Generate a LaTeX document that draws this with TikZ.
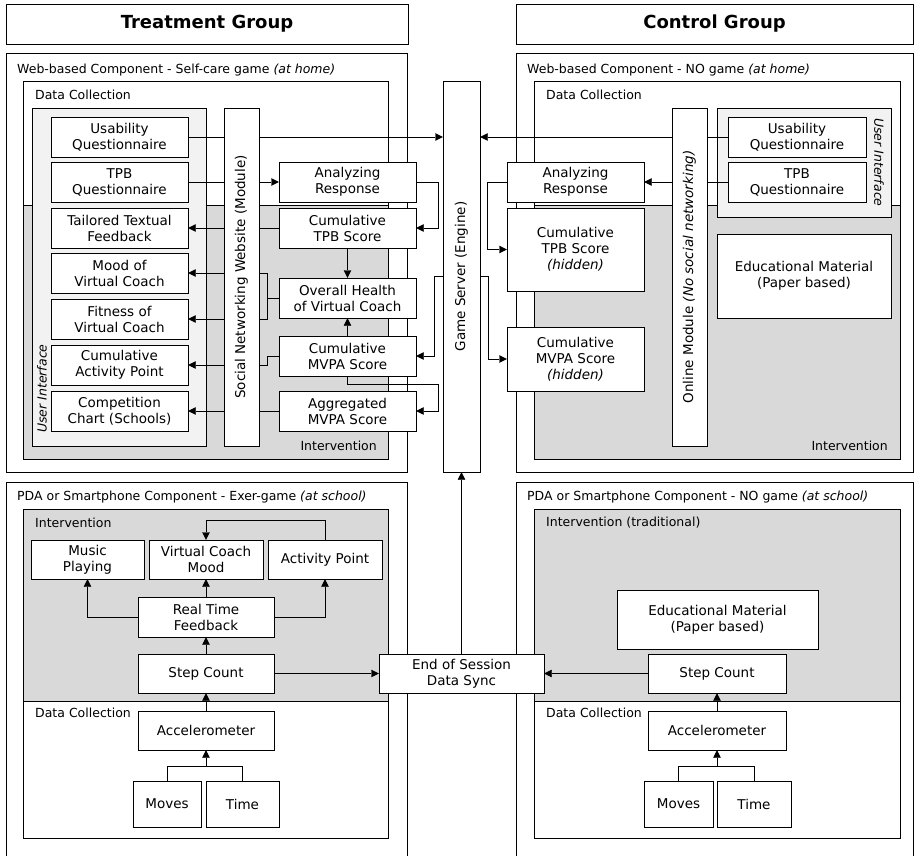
\documentclass[tikz,border=0pt]{standalone}
\usepackage{fontspec}
\setmainfont{DejaVu Sans}
\usetikzlibrary{arrows.meta,calc}

\definecolor{intgray}{RGB}{217,217,217}
\definecolor{uigray}{RGB}{242,242,242}

\pgfdeclarelayer{panels}
\pgfdeclarelayer{wires}
\pgfsetlayers{panels,wires,main}

% box given by its corners: name, x1, y1, x2, y2, text
\newcommand\mkbox[6]{%
  \node[block, minimum width={(#4)-(#2)}, minimum height={(#5)-(#3)}]
    (#1) at ({((#2)+(#4))/2},{((#3)+(#5))/2}) {#6};}

\begin{document}
\begin{tikzpicture}[x=1pt, y=-1pt, line width=0.9pt,
  txt/.style={font=\fontsize{13.5}{16}\selectfont},
  block/.style={draw, fill=white, align=center, inner sep=0pt, txt},
  vtext/.style={inner sep=0pt, rotate=90, txt},
  lbl/.style={inner sep=0pt, anchor=west, font=\fontsize{12.5}{15}\selectfont},
  head/.style={draw, fill=white, inner sep=0pt, font=\fontsize{18}{21}\selectfont\bfseries},
  arr/.style={-{Triangle[length=7.5pt,width=7.5pt]}},
  panel/.style={draw, fill=white},
  intpanel/.style={draw, fill=intgray},
  uipanel/.style={draw, fill=uigray},
]
\useasboundingbox (0,0) rectangle (918,856);

% ---------- headers ----------
\node[head, minimum width=402, minimum height=40] (hT) at (207,24) {Treatment Group};
\node[head, minimum width=397, minimum height=40] (hC) at (714.5,24) {Control Group};

% ---------- containers ----------
\begin{pgfonlayer}{panels}
  % web, treatment
  \draw[panel] (6,53) rectangle (407,472);
  \draw[panel] (23,81) rectangle (388,459);
  \draw[intpanel] (23,205) rectangle (388,459);
  \draw[uipanel] (32,108) rectangle (206,446);
  % web, control
  \draw[panel] (516,53) rectangle (913,472);
  \draw[panel] (534,81) rectangle (900,459);
  \draw[intpanel] (534,205) rectangle (900,459);
  \draw[uipanel] (717,108) rectangle (891,217);
  % PDA, treatment
  \draw[panel] (6,857) |- (407,482) -- (407,857);
  \draw[panel] (23,509) rectangle (388,838);
  \draw[intpanel] (23,509) rectangle (388,701);
  % PDA, control
  \draw[panel] (516,857) |- (913,482) -- (913,857);
  \draw[panel] (534,509) rectangle (900,838);
  \draw[intpanel] (534,509) rectangle (900,701);
\end{pgfonlayer}

% ---------- container labels ----------
\node[lbl] (wT) at (17,70) {Web-based Component - Self-care game \textit{(at home)}};
\node[lbl] (dcT) at (35,95) {Data Collection};
\node[lbl, anchor=east] (ivT) at (377,446) {Intervention};
\node[lbl, rotate=90, font=\fontsize{12.5}{15}\selectfont\itshape] (uiT) at (42,433) {User Interface};

\node[lbl] (wC) at (527,70) {Web-based Component - NO game \textit{(at home)}};
\node[lbl] (dcC) at (546,95) {Data Collection};
\node[lbl, anchor=east] (ivC) at (888,446) {Intervention};
\node[lbl, rotate=-90, font=\fontsize{12.5}{15}\selectfont\itshape] (uiC) at (879,118) {User Interface};

\node[lbl] (pT) at (17,497) {PDA or Smartphone Component - Exer-game \textit{(at school)}};
\node[lbl] (piT) at (35,523) {Intervention};
\node[lbl] (pdT) at (35,713) {Data Collection};

\node[lbl] (pC) at (527,497) {PDA or Smartphone Component - NO game \textit{(at school)}};
\node[lbl] (piC) at (546,523) {Intervention (traditional)};
\node[lbl] (pdC) at (546,713) {Data Collection};

% ---------- web component, treatment ----------
\mkbox{uq1}{51}{117}{188}{157}{Usability\\Questionnaire}
\mkbox{tq1}{51}{162}{188}{202}{TPB\\Questionnaire}
\mkbox{tf}{51}{208}{188}{248}{Tailored Textual\\Feedback}
\mkbox{mood}{51}{253}{188}{293}{Mood of\\Virtual Coach}
\mkbox{fit}{51}{299}{188}{339}{Fitness of\\Virtual Coach}
\mkbox{cap}{51}{345}{188}{385}{Cumulative\\Activity Point}
\mkbox{cc}{51}{391}{188}{431}{Competition\\Chart (Schools)}
\mkbox{ar1}{279}{162}{416}{202}{Analyzing\\Response}
\mkbox{ct1}{279}{208}{416}{248}{Cumulative\\TPB Score}
\mkbox{oh}{279}{278}{416}{318}{Overall Health\\of Virtual Coach}
\mkbox{cm1}{279}{336}{416}{376}{Cumulative\\MVPA Score}
\mkbox{am}{279}{391}{416}{431}{Aggregated\\MVPA Score}
\mkbox{snw}{224}{108}{259}{446}{}
\node[vtext] (snwt) at (snw.center) {Social Networking Website (Module)};

% ---------- game server ----------
\mkbox{gs}{443}{81}{480}{472}{}
\node[vtext] (gst) at (gs.center) {Game Server (Engine)};

% ---------- web component, control ----------
\mkbox{uq2}{728}{117}{866}{157}{Usability\\Questionnaire}
\mkbox{tq2}{728}{162}{866}{202}{TPB\\Questionnaire}
\mkbox{om}{672}{108}{707}{446}{}
\node[vtext] (omt) at (om.center) {Online Module \textit{(No social networking)}};
\mkbox{ar2}{507}{162}{644}{202}{Analyzing\\Response}
\mkbox{ct2}{507}{208}{644}{291}{Cumulative\\TPB Score\\\textit{(hidden)}}
\mkbox{cm2}{507}{327}{644}{391}{Cumulative\\MVPA Score\\\textit{(hidden)}}
\mkbox{em1}{717}{234}{891}{318}{Educational Material\\(Paper based)}

% ---------- PDA component, treatment ----------
\mkbox{mp}{31}{540}{144}{579}{Music\\Playing}
\mkbox{vcm}{149}{540}{263}{579}{Virtual Coach\\Mood}
\mkbox{ap}{268}{540}{382}{579}{Activity Point}
\mkbox{rtf}{138}{597}{274}{637}{Real Time\\Feedback}
\mkbox{sc1}{138}{654}{274}{693}{Step Count}
\mkbox{acc1}{138}{711}{274}{750}{Accelerometer}
\mkbox{mv1}{133}{781}{201}{827}{Moves}
\mkbox{tm1}{206}{781}{279}{827}{Time}
\mkbox{eos}{379}{654}{544}{693}{End of Session\\Data Sync}

% ---------- PDA component, control ----------
\mkbox{em2}{617}{590}{818}{649}{Educational Material\\(Paper based)}
\mkbox{sc2}{648}{654}{786}{693}{Step Count}
\mkbox{acc2}{648}{711}{786}{750}{Accelerometer}
\mkbox{mv2}{644}{781}{713}{827}{Moves}
\mkbox{tm2}{717}{781}{791}{827}{Time}

% ---------- connectors ----------
\begin{pgfonlayer}{wires}
  % treatment, web
  \draw[arr] (uq1.east) -- (uq1.east -| gs.west);
  \draw[arr] (tq1.east) -- (ar1.west);
  \draw[arr] (ar1.east) -- ++(22,0) |- (ct1.east);
  \draw[arr] (ct1.south) -- (oh.north);
  \draw[arr] (cm1.north) -- (oh.south);
  \draw[arr] (cm1.south) -- ++(0,8) -| ($(am.east)+(22,0)$) -- (am.east);
  \draw[arr] (gs.west) -- ++(-9,0) |- (cm1.east);
  \foreach \t in {tf,mood,fit,cap,cc}
    \draw[arr] (snw.west |- \t.east) -- (\t.east);
  \draw (snw.east |- ct1.west) -- (ct1.west);
  \draw (snw.east |- mood.east) -- ++(8,0) coordinate (bk)
        -- (bk |- fit.east) -- (snw.east |- fit.east);
  \draw (bk |- oh.west) -- (oh.west);
  \draw (snw.east |- cap.east) -- ++(8,0) |- (cm1.west);
  \draw (snw.east |- am.west) -- (am.west);
  % control, web
  \draw[arr] (uq2.west) -- (uq2.west -| gs.east);
  \draw[arr] (tq2.west) -- (ar2.east);
  \draw[arr] (ar2.west) -- ++(-20,0) |- (ct2.west);
  \draw[arr] (gs.east) -- ++(8,0) |- (cm2.west);
  % treatment, PDA
  \draw[arr] (ap.north) -- ++(0,-20) -| (vcm.north);
  \draw[arr] (rtf.west) -| (mp.south);
  \draw[arr] (rtf.north) -- (vcm.south);
  \draw[arr] (rtf.east) -| (ap.south);
  \draw[arr] (sc1.north) -- (rtf.south);
  \draw[arr] (acc1.north) -- (sc1.south);
  \draw[arr] (sc1.east) -- (eos.west);
  \draw (mv1.north) -- ++(0,-15) coordinate (j1) -| (tm1.north);
  \draw[arr] (j1 -| acc1.south) -- (acc1.south);
  \draw[arr] (eos.north) -- (gs.south);
  % control, PDA
  \draw[arr] (sc2.west) -- (eos.east);
  \draw[arr] (acc2.north) -- (sc2.south);
  \draw (mv2.north) -- ++(0,-15) coordinate (j2) -| (tm2.north);
  \draw[arr] (j2 -| acc2.south) -- (acc2.south);
\end{pgfonlayer}
\end{tikzpicture}
\end{document}
